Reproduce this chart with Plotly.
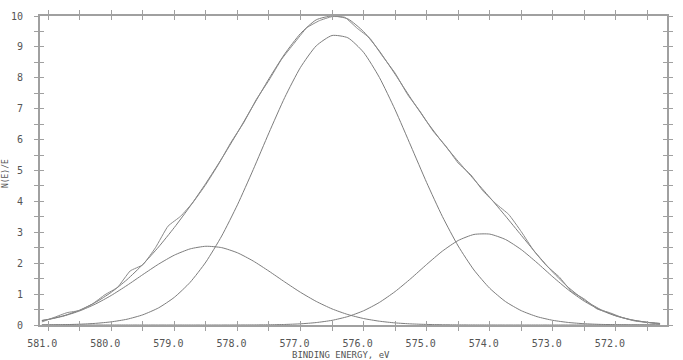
import plotly.graph_objects as go

# Binding energy grid for the fitted curves (eV)
energy_fit = [581.1, 581.0, 580.75, 580.5, 580.25, 580.0, 579.75, 579.5, 579.25, 579.0,
              578.75, 578.5, 578.25, 578.0, 577.75, 577.5, 577.25, 577.0, 576.75, 576.5,
              576.25, 576.0, 575.75, 575.5, 575.25, 575.0, 574.75, 574.5, 574.25, 574.0,
              573.75, 573.5, 573.25, 573.0, 572.75, 572.5, 572.25, 572.0, 571.75, 571.5, 571.3]

peak_main = [0.004, 0.006, 0.012, 0.026, 0.053, 0.102, 0.187, 0.330, 0.555, 0.896,
             1.381, 2.039, 2.879, 3.889, 5.028, 6.221, 7.363, 8.338, 9.036, 9.369,
             9.295, 8.823, 8.013, 6.965, 5.792, 4.608, 3.508, 2.555, 1.780, 1.188,
             0.758, 0.463, 0.270, 0.151, 0.081, 0.041, 0.020, 0.010, 0.004, 0.002, 0.001]

peak_left = [0.143, 0.177, 0.292, 0.457, 0.679, 0.957, 1.282, 1.631, 1.970, 2.261,
             2.463, 2.548, 2.504, 2.337, 2.071, 1.742, 1.393, 1.057, 0.762, 0.521,
             0.339, 0.209, 0.123, 0.068, 0.036, 0.018, 0.009, 0.004, 0.002, 0.001,
             0, 0, 0, 0, 0, 0, 0, 0, 0, 0, 0]

peak_right = [0, 0, 0, 0, 0, 0, 0, 0, 0, 0,
              0, 0, 0, 0.001, 0.003, 0.007, 0.017, 0.038, 0.079, 0.151,
              0.273, 0.461, 0.730, 1.083, 1.505, 1.960, 2.392, 2.735, 2.930, 2.941,
              2.767, 2.439, 2.014, 1.558, 1.130, 0.768, 0.489, 0.292, 0.163, 0.085, 0.049]

envelope = [0.147, 0.183, 0.304, 0.483, 0.732, 1.059, 1.469, 1.961, 2.525, 3.157,
            3.844, 4.587, 5.383, 6.227, 7.102, 7.970, 8.773, 9.433, 9.877, 10.0,
            9.907, 9.493, 8.866, 8.116, 7.333, 6.586, 5.909, 5.294, 4.712, 4.130,
            3.525, 2.902, 2.284, 1.709, 1.211, 0.809, 0.509, 0.302, 0.167, 0.087, 0.050]

# Measured spectrum
energy_data = [581.1, 580.9, 580.7, 580.5, 580.3, 580.1, 579.9, 579.7, 579.5, 579.3,
               579.1, 578.9, 578.7, 578.5, 578.3, 578.1, 577.9, 577.7, 577.5, 577.3,
               577.1, 576.9, 576.7, 576.5, 576.3, 576.1, 575.9, 575.7, 575.5, 575.3,
               575.1, 574.9, 574.7, 574.5, 574.3, 574.1, 573.9, 573.7, 573.5, 573.3,
               573.1, 572.9, 572.7, 572.5, 572.3, 572.1, 571.9, 571.7, 571.5, 571.3]
counts_data = [0.10, 0.25, 0.40, 0.47, 0.68, 0.98, 1.22, 1.75, 1.95, 2.50,
               3.20, 3.52, 3.98, 4.55, 5.20, 5.92, 6.55, 7.30, 7.92, 8.60,
               9.12, 9.62, 9.85, 9.98, 9.96, 9.60, 9.28, 8.70, 8.15, 7.45,
               6.90, 6.28, 5.80, 5.24, 4.86, 4.32, 3.92, 3.58, 3.02, 2.40,
               1.92, 1.56, 1.08, 0.84, 0.52, 0.40, 0.24, 0.13, 0.08, 0.03]

x_ticks = [581.0, 580.5, 580.0, 579.5, 579.0, 578.5, 578.0, 577.5, 577.0, 576.5,
           576.0, 575.5, 575.0, 574.5, 574.0, 573.5, 573.0, 572.5, 572.0, 571.5]
x_labels = ["581.0", "", "580.0", "", "579.0", "", "578.0", "", "577.0", "",
            "576.0", "", "575.0", "", "574.0", "", "573.0", "", "572.0", ""]
y_ticks = [0, 0.5, 1, 1.5, 2, 2.5, 3, 3.5, 4, 4.5, 5, 5.5, 6, 6.5, 7, 7.5, 8, 8.5, 9, 9.5, 10]
y_labels = ["0", "", "1", "", "2", "", "3", "", "4", "", "5", "", "6", "", "7", "", "8", "", "9", "", "10"]

x_range = [581.13, 571.19]
y_range = [0, 10]

curve_col = "#7d7d7d"
axis_col = "#a0a0a0"
text_col = "#555555"
mono = "DejaVu Sans Mono"

fig = go.Figure()
for comp in (peak_left, peak_main, peak_right):
    fig.add_trace(go.Scatter(x=energy_fit, y=comp, mode="lines",
                             line=dict(color=curve_col, width=1, shape="spline", smoothing=0.6),
                             showlegend=False, hoverinfo="skip"))
fig.add_trace(go.Scatter(x=energy_fit, y=envelope, mode="lines",
                         line=dict(color=curve_col, width=1, shape="spline", smoothing=0.6),
                         showlegend=False, hoverinfo="skip"))
fig.add_trace(go.Scatter(x=energy_data, y=counts_data, mode="lines",
                         line=dict(color="#8a8a8a", width=1, shape="spline", smoothing=0.4),
                         showlegend=False, hoverinfo="skip"))
# invisible trace to host the overlay axes (inner half of the crossing ticks)
fig.add_trace(go.Scatter(x=[576.0], y=[-5], xaxis="x2", yaxis="y2", mode="markers",
                         marker=dict(opacity=0), showlegend=False, hoverinfo="skip"))

common_x = dict(range=x_range, tickvals=x_ticks, showgrid=False, zeroline=False,
                showline=True, linecolor=axis_col, linewidth=2, mirror="ticks",
                tickcolor=axis_col, tickwidth=1, ticklen=4)
common_y = dict(range=y_range, tickvals=y_ticks, showgrid=False, zeroline=False,
                showline=True, linecolor=axis_col, linewidth=2, mirror="ticks",
                tickcolor=axis_col, tickwidth=1, ticklen=4)

fig.update_layout(
    width=683, height=360,
    margin=dict(l=40, r=10, t=11, b=35),
    paper_bgcolor="white", plot_bgcolor="white",
    xaxis=dict(**common_x, ticks="outside", ticktext=x_labels,
               tickfont=dict(family=mono, size=10, color=text_col),
               ticklabelshift=6, ticklabelstandoff=4),
    yaxis=dict(**common_y, ticks="outside", ticktext=y_labels,
               tickfont=dict(family=mono, size=10, color=text_col),
               ticklabelstandoff=9),
    xaxis2=dict(**common_x, ticks="inside", overlaying="x", anchor="y2",
                showticklabels=False),
    yaxis2=dict(**common_y, ticks="inside", overlaying="y", anchor="x2",
                showticklabels=False),
    annotations=[
        dict(text="BINDING ENERGY, eV", xref="paper", yref="paper", x=0.48, y=-0.074,
             xanchor="center", yanchor="top", showarrow=False,
             font=dict(family=mono, size=9, color=text_col)),
        dict(text="N(E)/E", xref="paper", yref="paper", x=-0.055, y=0.49,
             xanchor="center", yanchor="middle", textangle=-90, showarrow=False,
             font=dict(family=mono, size=8, color=text_col)),
    ],
)

fig.write_html("out.html")
